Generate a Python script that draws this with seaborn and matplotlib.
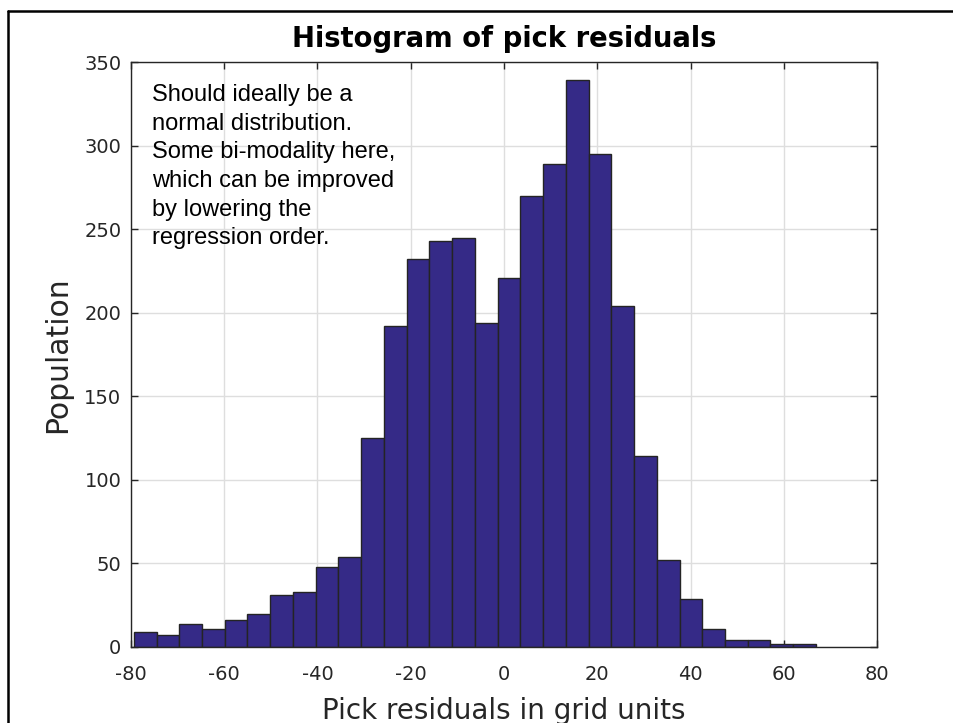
import numpy as np
import pandas as pd
import matplotlib
matplotlib.use("Agg")
import matplotlib.pyplot as plt
from matplotlib.lines import Line2D
import seaborn as sns

# Residual histogram: counts per bin, bins of equal width starting at bin_start
bin_start = -79.4
bin_width = 4.877
counts = [9, 7, 14, 11, 16, 20, 31, 33, 48, 54,
          125, 192, 232, 243, 245, 194, 221, 270, 289, 339,
          295, 204, 114, 52, 29, 11, 4, 4, 2, 2]
x_ticks = [-80, -60, -40, -20, 0, 20, 40, 60, 80]
y_ticks = [0, 50, 100, 150, 200, 250, 300, 350]

title_text = "Histogram of pick residuals"
x_label = "Pick residuals in grid units"
y_label = "Population"
note = ("Should ideally be a\n"
        "normal distribution.\n"
        "Some bi-modality here,\n"
        "which can be improved\n"
        "by lowering the\n"
        "regression order.")

n_bins = len(counts)
edges = bin_start + bin_width * np.arange(n_bins + 1)
centers = 0.5 * (edges[:-1] + edges[1:])
df = pd.DataFrame({"residual": centers, "count": counts})

sns.set_theme(style="white")
plt.rcParams["font.family"] = ["DejaVu Sans"]

ink = "#262626"
bar_color = "#352a87"

fig = plt.figure(figsize=(9.54, 7.23), dpi=100)
fig.patch.set_facecolor("white")
ax = fig.add_axes([131 / 954, 1 - 647 / 723, 746 / 954, 585 / 723])

sns.histplot(data=df, x="residual", weights="count", bins=edges.tolist(), ax=ax,
             color=bar_color, alpha=1.0, edgecolor="#242424", linewidth=1.0,
             zorder=2)

ax.set_xlim(-80, 80)
ax.set_ylim(0, 350)
ax.set_xticks(x_ticks)
ax.set_yticks(y_ticks)
ax.set_xticklabels([str(v) for v in x_ticks])
ax.set_yticklabels([str(v) for v in y_ticks])

ax.grid(True, color="#dedede", linewidth=1.0, zorder=0)
ax.set_axisbelow(True)
for side in ["left", "right", "top", "bottom"]:
    ax.spines[side].set_visible(True)
    ax.spines[side].set_color(ink)
    ax.spines[side].set_linewidth(1.0)
ax.tick_params(axis="both", which="major", direction="in", length=5, width=1.0,
               color=ink, labelcolor=ink, labelsize=14,
               top=True, right=True, bottom=True, left=True)
ax.tick_params(axis="x", pad=13)
ax.tick_params(axis="y", pad=7)

ax.set_xlabel(x_label, fontsize=20, color=ink, labelpad=9)
ax.set_ylabel(y_label, fontsize=21.5, color=ink, labelpad=9)
ax.set_title(title_text, fontsize=19.8, fontweight="bold", color="black", pad=11)

ax.text(0.028, 0.962, note, transform=ax.transAxes, ha="left", va="top",
        fontsize=17, family=["Liberation Sans", "DejaVu Sans"], color="black",
        linespacing=1.39, zorder=5)

# Frame lines along the top and left edges of the figure
fig.add_artist(Line2D([8.5 / 954, 8.5 / 954], [0, 1 - 10.5 / 723],
                      transform=fig.transFigure, color="black", linewidth=1.8))
fig.add_artist(Line2D([8.5 / 954, 1], [1 - 10.5 / 723, 1 - 10.5 / 723],
                      transform=fig.transFigure, color="black", linewidth=1.8))

fig.savefig("out.png", dpi=100, facecolor="white")
